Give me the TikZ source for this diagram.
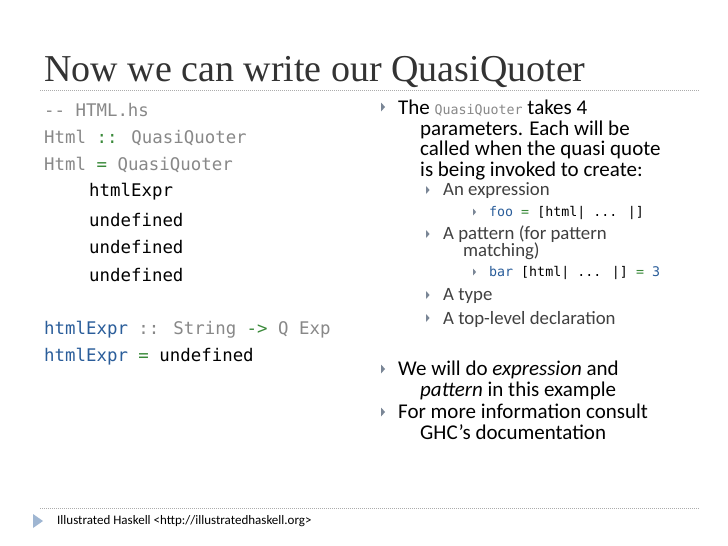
\documentclass[tikz,border=0pt]{standalone}
\usepackage{fontspec}
\setmainfont{Carlito}
\newfontfamily\codef{DejaVu Sans Mono}
\newfontfamily\titlef{Liberation Serif}
\definecolor{cgray}{HTML}{888888}
\definecolor{cgreen}{HTML}{3A8A3A}
\definecolor{cblue}{HTML}{2A5D9A}
\definecolor{tri}{HTML}{7A8696}
\definecolor{txt}{HTML}{404040}
\begin{document}
\begin{tikzpicture}[x=1pt,y=-1pt,
  code/.style={anchor=west,inner sep=0pt,font=\codef\fontsize{17.4}{18}\selectfont},
  b1/.style={anchor=west,inner sep=0pt,font=\fontsize{21}{20.5}\selectfont,align=left,text=black},
  b2/.style={anchor=west,inner sep=0pt,font=\fontsize{18.8}{17}\selectfont,align=left,text=txt},
  c3/.style={anchor=west,inner sep=0pt,font=\codef\fontsize{13.3}{15}\selectfont},
  sep/.style={dashed,dash pattern=on 1pt off 1pt,draw=cgray!70,line width=0.5pt}]
\useasboundingbox (0,0) rectangle (728,546);
\fill[white] (0,0) rectangle (728,546);
\node[anchor=base west,inner sep=0pt,font=\titlef\fontsize{38}{40}\selectfont,text=black!80] (title) at (44,81) {Now we can write our QuasiQuoter};
\draw[sep] (40,90) -- (700,90);
\draw[sep] (40,508) -- (700,508);
% code
\node[code,text=cgray] (l1) at (44,110) {-- HTML.hs};
\node[code,text=cgray] (l2) at (44,138) {Html \textcolor{cgreen}{::} QuasiQuoter};
\node[code,text=cgray] (l3) at (44,165) {Html \textcolor{cgreen}{=} QuasiQuoter};
\node[code] (l4) at (89,192) {htmlExpr};
\node[code] (l5) at (89,220) {undefined};
\node[code] (l6) at (89,247) {undefined};
\node[code] (l7) at (89,275) {undefined};
\node[code,text=cgray] (l8) at (44,330) {\textcolor{cblue}{htmlExpr} \textcolor{cgray}{::} String \textcolor{cgreen}{->} Q Exp};
\node[code] (l9) at (44,357) {\textcolor{cblue}{htmlExpr} \textcolor{cgreen}{=} undefined};
% bullets
\newcommand\tri[3]{\fill[tri] (#1,#2-#3) -- (#1+#3*0.9,#2) -- (#1,#2+#3) -- cycle;}
\tri{381}{107}{4.5}
\node[b1,anchor=north west] (p1) at (398,100) {The {\codef\fontsize{13.3}{15}\selectfont\textcolor{cgray}{QuasiQuoter}} takes 4\\\hspace*{22pt}parameters. Each will be\\\hspace*{22pt}called when the quasi quote\\\hspace*{22pt}is being invoked to create:};
\tri{426}{190}{4}
\node[b2] (s1) at (443,191) {An expression};
\tri{473}{212}{3.5}
\node[c3] (s1c) at (489,213) {\textcolor{cblue}{foo} \textcolor{cgreen}{=} [html| ... |]};
\tri{426}{234}{4}
\node[b2,anchor=north west] (s2) at (443,226) {A pattern (for pattern\\\hspace*{20pt}matching)};
\tri{473}{272}{3.5}
\node[c3] (s2c) at (489,273) {\textcolor{cblue}{bar} [html| ... |] \textcolor{cgreen}{=} \textcolor{cblue}{3}};
\tri{426}{295}{4}
\node[b2] (s3) at (443,296) {A type};
\tri{426}{318}{4}
\node[b2] (s4) at (443,319) {A top-level declaration};
\tri{381}{369}{4.5}
\node[b1,anchor=north west] (p2) at (398,361) {We will do \textit{expression} and\\\hspace*{22pt}\textit{pattern} in this example};
\tri{381}{412}{4.5}
\node[b1,anchor=north west] (p3) at (398,404) {For more information consult\\\hspace*{22pt}GHC’s documentation};
% footer
\fill[cblue!45] (33,514) -- (43,521) -- (33,528) -- cycle;
\node[anchor=west,inner sep=0pt,font=\fontsize{13}{14}\selectfont] (foot) at (57,521) {Illustrated Haskell <http://illustratedhaskell.org>};
\end{tikzpicture}
\end{document}
